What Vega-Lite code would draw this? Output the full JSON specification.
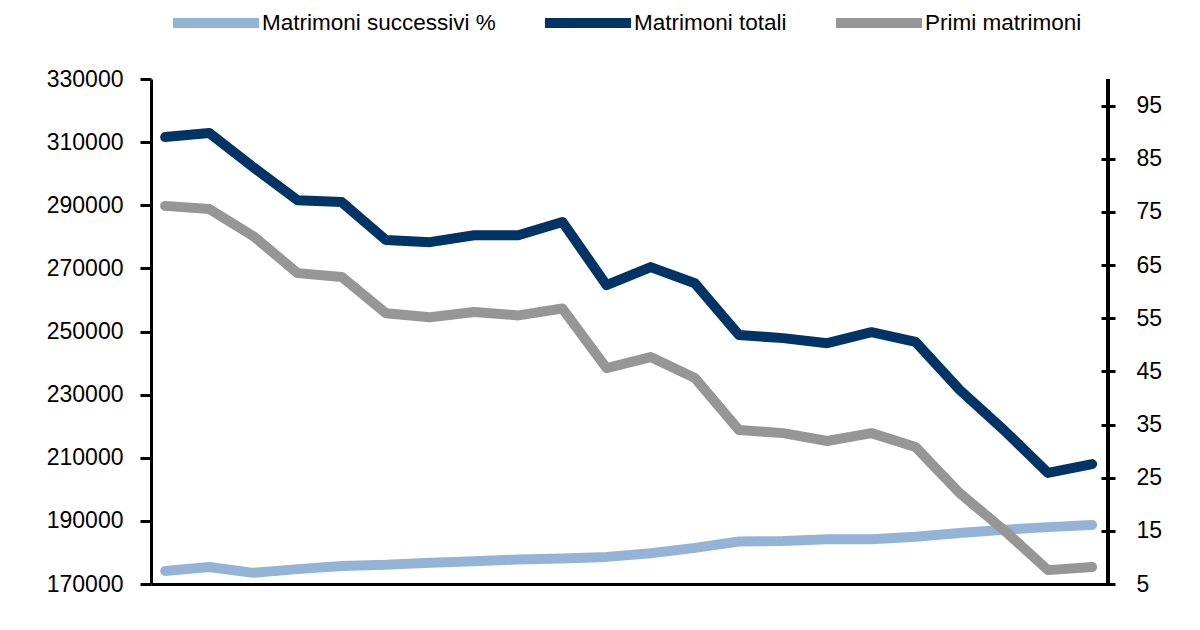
{
  "$schema": "https://vega.github.io/schema/vega-lite/v6.json",
  "width": 957,
  "height": 505,
  "autosize": {"type": "none"},
  "padding": {"left": 151, "top": 79, "right": 92, "bottom": 46},
  "background": "white",
  "config": {
    "view": {"stroke": null},
    "font": "Liberation Sans",
    "axis": {
      "domainColor": "black", "domainWidth": 3,
      "tickColor": "black", "tickWidth": 3,
      "labelColor": "black", "labelFont": "Liberation Sans", "labelFontSize": 23,
      "grid": false, "title": null
    },
    "legend": {"labelFont": "Liberation Sans", "labelFontSize": 22.5, "labelColor": "black", "labelLimit": 400}
  },
  "data": {
    "values": [
      {"anno": 1991, "serie": "Matrimoni totali", "valore": 311600},
      {"anno": 1992, "serie": "Matrimoni totali", "valore": 312900},
      {"anno": 1993, "serie": "Matrimoni totali", "valore": 302000},
      {"anno": 1994, "serie": "Matrimoni totali", "valore": 291600},
      {"anno": 1995, "serie": "Matrimoni totali", "valore": 291000},
      {"anno": 1996, "serie": "Matrimoni totali", "valore": 279000},
      {"anno": 1997, "serie": "Matrimoni totali", "valore": 278300},
      {"anno": 1998, "serie": "Matrimoni totali", "valore": 280500},
      {"anno": 1999, "serie": "Matrimoni totali", "valore": 280500},
      {"anno": 2000, "serie": "Matrimoni totali", "valore": 284700},
      {"anno": 2001, "serie": "Matrimoni totali", "valore": 264700},
      {"anno": 2002, "serie": "Matrimoni totali", "valore": 270400},
      {"anno": 2003, "serie": "Matrimoni totali", "valore": 265300},
      {"anno": 2004, "serie": "Matrimoni totali", "valore": 248900},
      {"anno": 2005, "serie": "Matrimoni totali", "valore": 247900},
      {"anno": 2006, "serie": "Matrimoni totali", "valore": 246300},
      {"anno": 2007, "serie": "Matrimoni totali", "valore": 249800},
      {"anno": 2008, "serie": "Matrimoni totali", "valore": 246700},
      {"anno": 2009, "serie": "Matrimoni totali", "valore": 231500},
      {"anno": 2010, "serie": "Matrimoni totali", "valore": 218800},
      {"anno": 2011, "serie": "Matrimoni totali", "valore": 205200},
      {"anno": 2012, "serie": "Matrimoni totali", "valore": 208000},
      {"anno": 1991, "serie": "Primi matrimoni", "valore": 289800},
      {"anno": 1992, "serie": "Primi matrimoni", "valore": 288800},
      {"anno": 1993, "serie": "Primi matrimoni", "valore": 280200},
      {"anno": 1994, "serie": "Primi matrimoni", "valore": 268500},
      {"anno": 1995, "serie": "Primi matrimoni", "valore": 267300},
      {"anno": 1996, "serie": "Primi matrimoni", "valore": 255800},
      {"anno": 1997, "serie": "Primi matrimoni", "valore": 254500},
      {"anno": 1998, "serie": "Primi matrimoni", "valore": 256200},
      {"anno": 1999, "serie": "Primi matrimoni", "valore": 255100},
      {"anno": 2000, "serie": "Primi matrimoni", "valore": 257300},
      {"anno": 2001, "serie": "Primi matrimoni", "valore": 238400},
      {"anno": 2002, "serie": "Primi matrimoni", "valore": 241900},
      {"anno": 2003, "serie": "Primi matrimoni", "valore": 235300},
      {"anno": 2004, "serie": "Primi matrimoni", "valore": 218800},
      {"anno": 2005, "serie": "Primi matrimoni", "valore": 217800},
      {"anno": 2006, "serie": "Primi matrimoni", "valore": 215300},
      {"anno": 2007, "serie": "Primi matrimoni", "valore": 217800},
      {"anno": 2008, "serie": "Primi matrimoni", "valore": 213400},
      {"anno": 2009, "serie": "Primi matrimoni", "valore": 198800},
      {"anno": 2010, "serie": "Primi matrimoni", "valore": 187100},
      {"anno": 2011, "serie": "Primi matrimoni", "valore": 174400},
      {"anno": 2012, "serie": "Primi matrimoni", "valore": 175400},
      {"anno": 1991, "serie": "Matrimoni successivi %", "valore": 7.45},
      {"anno": 1992, "serie": "Matrimoni successivi %", "valore": 8.2},
      {"anno": 1993, "serie": "Matrimoni successivi %", "valore": 7.1},
      {"anno": 1994, "serie": "Matrimoni successivi %", "valore": 7.8},
      {"anno": 1995, "serie": "Matrimoni successivi %", "valore": 8.4},
      {"anno": 1996, "serie": "Matrimoni successivi %", "valore": 8.6},
      {"anno": 1997, "serie": "Matrimoni successivi %", "valore": 9.0},
      {"anno": 1998, "serie": "Matrimoni successivi %", "valore": 9.3},
      {"anno": 1999, "serie": "Matrimoni successivi %", "valore": 9.6},
      {"anno": 2000, "serie": "Matrimoni successivi %", "valore": 9.8},
      {"anno": 2001, "serie": "Matrimoni successivi %", "valore": 10.1},
      {"anno": 2002, "serie": "Matrimoni successivi %", "valore": 10.8},
      {"anno": 2003, "serie": "Matrimoni successivi %", "valore": 11.8},
      {"anno": 2004, "serie": "Matrimoni successivi %", "valore": 13.0},
      {"anno": 2005, "serie": "Matrimoni successivi %", "valore": 13.1},
      {"anno": 2006, "serie": "Matrimoni successivi %", "valore": 13.4},
      {"anno": 2007, "serie": "Matrimoni successivi %", "valore": 13.4},
      {"anno": 2008, "serie": "Matrimoni successivi %", "valore": 13.9},
      {"anno": 2009, "serie": "Matrimoni successivi %", "valore": 14.6},
      {"anno": 2010, "serie": "Matrimoni successivi %", "valore": 15.2},
      {"anno": 2011, "serie": "Matrimoni successivi %", "valore": 15.7},
      {"anno": 2012, "serie": "Matrimoni successivi %", "valore": 16.1}
    ]
  },
  "layer": [
    {
      "mark": {"type": "rule", "strokeWidth": 3, "color": "black"},
      "encoding": {"x": {"datum": 2012.36, "type": "quantitative"}}
    },
    {
      "transform": [{"filter": "datum.serie === 'Matrimoni successivi %'"}],
      "mark": {"type": "line", "strokeWidth": 10, "strokeCap": "round", "strokeJoin": "round"},
      "encoding": {
        "x": {
          "field": "anno", "type": "quantitative",
          "scale": {"domain": [1990.68, 2012.36], "nice": false, "zero": false},
          "axis": {"labels": false, "ticks": false}
        },
        "y": {
          "field": "valore", "type": "quantitative",
          "scale": {"domain": [5, 100], "nice": false, "zero": false},
          "axis": {"orient": "right", "values": [5, 15, 25, 35, 45, 55, 65, 75, 85, 95], "domain": false, "offset": -7, "tickSize": 14, "labelPadding": 21}
        },
        "color": {"field": "serie", "type": "nominal"}
      }
    },
    {
      "transform": [{"filter": "datum.serie !== 'Matrimoni successivi %'"}],
      "mark": {"type": "line", "strokeWidth": 10, "strokeCap": "round", "strokeJoin": "round"},
      "encoding": {
        "x": {"field": "anno", "type": "quantitative"},
        "y": {
          "field": "valore", "type": "quantitative",
          "scale": {"domain": [170000, 330000], "nice": false, "zero": false},
          "axis": {"orient": "left", "values": [170000, 190000, 210000, 230000, 250000, 270000, 290000, 310000, 330000], "format": "d", "tickSize": 11, "labelPadding": 17}
        },
        "color": {
          "field": "serie", "type": "nominal",
          "scale": {
            "domain": ["Matrimoni successivi %", "Matrimoni totali", "Primi matrimoni"],
            "range": ["#95b3d7", "#003366", "#969696"]
          },
          "legend": {
            "title": null, "orient": "none", "direction": "horizontal",
            "legendX": 17, "legendY": -104, "padding": 0,
            "symbolType": "stroke", "symbolSize": 7396, "symbolStrokeWidth": 10,
            "labelOffset": -2, "columnPadding": 29
          }
        }
      }
    }
  ],
  "resolve": {"scale": {"y": "independent"}}
}
